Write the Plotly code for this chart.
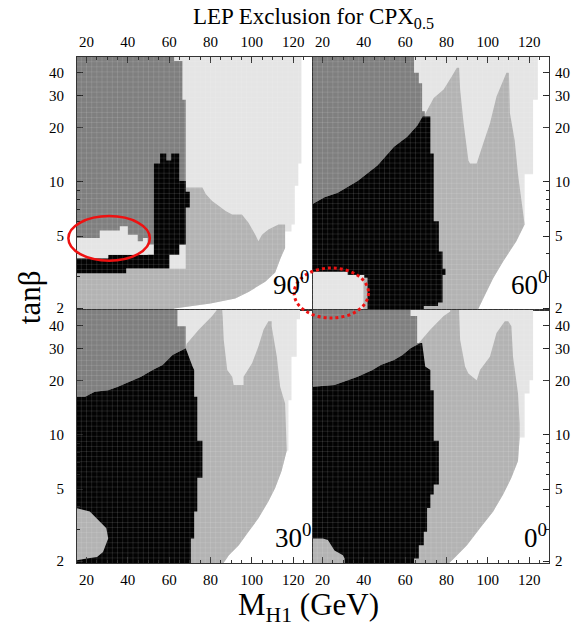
import numpy as np
import plotly.graph_objects as go

LIGHT = "#e5e5e5"
MID = "#b3b3b3"
DARK = "#7f7f7f"
BLACK = "#030303"
FONT = "Liberation Serif"

X_RANGE = [15.4, 129.6]
Y_RANGE_LOG = [0.2911, 1.6893]
X_TICKS = [20, 40, 60, 80, 100, 120]
Y_TICKS = [2, 5, 10, 20, 30, 40]
Y_MINOR = [3, 4, 6, 7, 8, 9]

# ---------------- panel 90 deg (top left) ----------------
TL_LIGHT_X = [15, 124, 124, 122.5, 122.5, 120.8, 120.8, 119.2, 119.2, 116.1, 116.1, 114, 111.3, 106.5, 98.4, 92, 80, 62.4, 62.4, 15]
TL_LIGHT_Y = [50, 50, 12.6, 12.6, 9.5, 9.5, 5.8, 5.8, 5.3, 5.3, 4.3, 3.8, 3.15, 2.8, 2.46, 2.26, 2.12, 1.99, 1.9, 1.9]
TL_MID_X = [15, 68, 68, 76.1, 77.7, 80.8, 84.1, 87.3, 90.5, 95.2, 98.4, 101.7, 103.2, 104.9, 108, 112.9, 116.1, 116.1, 114, 111.3, 106.5, 98.4, 92, 80, 62.4, 62.4, 15]
TL_MID_Y = [3.3, 3.3, 9.3, 9.3, 8.55, 7.83, 7.35, 6.9, 6.6, 6.6, 5.93, 5.1, 4.69, 5.1, 5.45, 5.8, 5.8, 4.3, 3.8, 3.15, 2.8, 2.46, 2.26, 2.12, 1.99, 1.9, 1.9]
TL_DARK_X = [15, 62.4, 62.4, 66.4, 66.4, 68.0, 68.0, 15]
TL_DARK_Y = [50, 50, 46.5, 46.5, 28.4, 28.4, 4.5, 4.5]
TL_BLACK_X = [15, 39.2, 39.2, 60.1, 60.1, 64.9, 64.9, 68.0, 68.0, 70.0, 70.0, 68.0, 68.0, 64.9, 64.9, 61.0, 61.0, 58.6, 58.6, 55.6, 55.6, 52.6, 52.6, 30.5, 30.5, 15]
TL_BLACK_Y = [3.12, 3.12, 3.32, 3.32, 3.95, 3.95, 4.5, 4.5, 7.2, 7.2, 8.8, 8.8, 10.1, 10.1, 14.3, 14.3, 13.1, 13.1, 14.3, 14.3, 12.6, 12.6, 3.95, 3.95, 3.78, 3.78]
TL_PATCH_X = [15, 30.5, 30.5, 49.6, 49.6, 47.3, 47.3, 44.8, 44.8, 40.0, 40.0, 36.1, 36.1, 26.4, 26.4, 15]
TL_PATCH_Y = [3.78, 3.78, 3.95, 3.95, 4.89, 4.89, 4.69, 4.69, 5.1, 5.1, 5.68, 5.68, 5.37, 5.37, 4.89, 4.89]

# ---------------- panel 60 deg (top right) ----------------
TR_LIGHT_X = [15, 124.2, 124.2, 121.9, 121.9, 117.8, 117.8, 113.8, 107.4, 102.6, 97.8, 94.6, 15]
TR_LIGHT_Y = [50, 50, 28.4, 28.4, 11.0, 11.0, 5.8, 4.69, 3.62, 2.93, 2.26, 1.9, 1.9]
TR_MID_X = [68, 69.0, 73.8, 78.6, 82.6, 85.0, 86.1, 86.6, 88.3, 90.6, 91.4, 94.6, 97.8, 101.0, 104.2, 109.0, 110.2, 110.7, 113.0, 114.6, 117.8, 113.8, 107.4, 102.6, 97.8, 94.6, 68]
TR_MID_Y = [22.9, 22.9, 29.0, 32.3, 38.3, 42.7, 42.7, 32.3, 21.0, 13.1, 12.6, 12.6, 16.3, 21.0, 29.6, 40.0, 40.0, 23.9, 16.9, 11.0, 5.8, 4.69, 3.62, 2.93, 2.26, 1.9, 1.9]
TR_DARK_X = [15, 64.3, 64.3, 66.6, 66.6, 68.2, 68.2, 69.5, 69.5, 66.0, 61.0, 54.6, 46.6, 37.0, 27.4, 21.0, 15]
TR_DARK_Y = [50, 50, 40, 40, 35, 35, 24.5, 24.5, 22.9, 20.5, 17.7, 15.6, 12.3, 10.1, 8.7, 8.2, 7.5]
TR_BLACK_X = [15, 21.0, 27.4, 37.0, 46.6, 54.6, 61.0, 66.0, 68.5, 72.2, 72.2, 73.8, 73.8, 76.3, 76.3, 78.1, 78.1, 79.5, 79.5, 78.1, 78.1, 75.9, 75.9, 69.0, 69.0, 15]
TR_BLACK_Y = [7.5, 8.2, 8.7, 10.1, 12.3, 15.6, 17.7, 20.5, 22.9, 22.9, 14.3, 14.3, 6.05, 6.05, 4.12, 4.12, 3.3, 3.3, 3.05, 3.05, 2.15, 2.15, 2.06, 2.06, 1.9, 1.9]
TR_PATCH_X = [15, 15, 32.2, 32.2, 40.2, 40.2]
TR_PATCH_Y = [1.9, 3.18, 3.18, 3.05, 3.05, 1.9]
TR_PATCH2_X = [39.8, 39.8, 41.8, 41.8]
TR_PATCH2_Y = [1.9, 2.95, 2.95, 1.9]

# ---------------- panel 30 deg (bottom left) ----------------
BL_LIGHT_X = [15, 123.3, 123.3, 121.7, 121.7, 119.2, 119.2, 117.7, 117.7, 116.9, 114.4, 111.3, 108.0, 103.2, 98.4, 93.7, 88.9, 85.6, 15]
BL_LIGHT_Y = [50, 50, 43.4, 43.4, 27.0, 27.0, 15.5, 15.5, 8.15, 8.15, 6.3, 5.08, 4.28, 3.45, 2.91, 2.45, 2.16, 1.9, 1.9]
BL_MID_X = [68, 68.5, 74.4, 80.8, 83.7, 85.6, 85.9, 86.4, 88.1, 90.5, 91.2, 96.0, 96.0, 100.1, 103.2, 105.7, 108.0, 109.6, 109.6, 112.1, 113.7, 116.1, 116.9, 114.4, 111.3, 108.0, 103.2, 98.4, 93.7, 88.9, 85.6, 68]
BL_MID_Y = [30.1, 31.8, 38.1, 45.3, 50, 50, 45, 33.5, 22.8, 20.9, 18.8, 18.8, 20.9, 24.8, 30.8, 38.1, 42.4, 42.4, 39.8, 27.0, 18.4, 14.9, 8.15, 6.3, 5.08, 4.28, 3.45, 2.91, 2.45, 2.16, 1.9, 1.9]
BL_DARK_X = [15, 64.0, 64.0, 68.0, 68.0, 61.6, 56.8, 52.0, 46.4, 40.8, 35.2, 30.5, 24.0, 19.3, 15]
BL_DARK_Y = [50, 50, 39.8, 39.8, 30.1, 27.6, 24.3, 22.8, 20.9, 19.6, 18.4, 17.6, 17.3, 16.2, 16.2]
BL_BLACK_X = [15, 19.3, 24.0, 30.5, 35.2, 40.8, 46.4, 52.0, 56.8, 61.6, 68.0, 71.3, 72.1, 72.1, 73.6, 73.6, 76.1, 76.1, 73.6, 73.6, 72.1, 72.1, 70.5, 70.5, 15]
BL_BLACK_Y = [16.2, 16.2, 17.3, 17.6, 18.4, 19.6, 20.9, 22.8, 24.3, 27.6, 30.1, 23.8, 22.8, 16.2, 16.2, 9.27, 9.27, 5.78, 5.78, 3.77, 3.77, 2.67, 2.67, 1.9, 1.9]
BL_PATCH_X = [15, 21.6, 26.4, 29.6, 30.5, 28.0, 25.1, 20.1, 15]
BL_PATCH_Y = [3.93, 3.77, 3.31, 3.04, 2.67, 2.25, 2.11, 2.07, 2.02]

# ---------------- panel 0 deg (bottom right) ----------------
BR_LIGHT_X = [15, 121.9, 121.9, 120.2, 120.2, 117.8, 117.8, 115.4, 114.6, 111.4, 107.4, 102.6, 96.2, 89.9, 83.6, 80.2, 15]
BR_LIGHT_Y = [50, 50, 20.0, 20.0, 16.9, 16.9, 9.66, 9.66, 7.16, 5.78, 4.67, 3.77, 3.04, 2.45, 2.07, 1.9, 1.9]
BR_MID_X = [15, 64, 64, 66.6, 72.2, 78.6, 81.8, 81.8, 86.1, 86.1, 86.6, 89.0, 90.6, 94.6, 96.2, 101.0, 104.2, 108.2, 109.9, 111.4, 112.2, 114.6, 115.4, 115.4, 114.6, 111.4, 107.4, 102.6, 96.2, 89.9, 83.6, 80.2, 15]
BR_MID_Y = [3.0, 3.0, 32.1, 32.1, 38.1, 45.3, 48, 50, 50, 48, 33.5, 23.8, 21.8, 20.0, 22.8, 27.0, 36.5, 42.4, 42.4, 39.8, 27.0, 16.9, 11.5, 9.66, 7.16, 5.78, 4.67, 3.77, 3.04, 2.45, 2.07, 1.9, 1.9]
BR_DARK_X = [15, 62.6, 62.6, 65.8, 65.8, 67.4, 62.6, 58.7, 54.6, 48.2, 44.2, 37.0, 25.8, 15]
BR_DARK_Y = [50, 50, 45.3, 45.3, 32.1, 32.1, 30.1, 27.6, 25.9, 24.3, 22.8, 20.9, 18.8, 18.4]
BR_BLACK_X = [15, 25.8, 37.0, 44.2, 48.2, 54.6, 58.7, 62.6, 67.4, 68.2, 69.7, 72.2, 72.2, 73.8, 73.8, 76.3, 76.3, 73.8, 73.8, 72.2, 72.2, 70.6, 70.6, 69.0, 69.0, 66.6, 66.6, 64.3, 64.3, 30.7, 30.7, 29.9, 25.8, 22.6, 20.2, 15]
BR_BLACK_Y = [18.4, 18.8, 20.9, 22.8, 24.3, 25.9, 27.6, 30.1, 32.1, 32.1, 23.8, 22.8, 17.6, 17.6, 9.27, 9.27, 5.31, 5.31, 4.67, 4.67, 3.93, 3.93, 2.91, 2.91, 2.45, 2.45, 2.07, 2.07, 1.9, 1.9, 2.07, 2.16, 2.29, 2.62, 2.67, 2.67]

PANELS = [
    ("x", "y", [(TL_LIGHT_X, TL_LIGHT_Y, LIGHT), (TL_MID_X, TL_MID_Y, MID), (TL_DARK_X, TL_DARK_Y, DARK),
                (TL_BLACK_X, TL_BLACK_Y, BLACK), (TL_PATCH_X, TL_PATCH_Y, LIGHT)]),
    ("x2", "y2", [(TR_LIGHT_X, TR_LIGHT_Y, LIGHT), (TR_MID_X, TR_MID_Y, MID), (TR_DARK_X, TR_DARK_Y, DARK),
                  (TR_BLACK_X, TR_BLACK_Y, BLACK), (TR_PATCH_X, TR_PATCH_Y, LIGHT), (TR_PATCH2_X, TR_PATCH2_Y, MID)]),
    ("x3", "y3", [(BL_LIGHT_X, BL_LIGHT_Y, LIGHT), (BL_MID_X, BL_MID_Y, MID), (BL_DARK_X, BL_DARK_Y, DARK),
                  (BL_BLACK_X, BL_BLACK_Y, BLACK), (BL_PATCH_X, BL_PATCH_Y, MID)]),
    ("x4", "y4", [(BR_LIGHT_X, BR_LIGHT_Y, LIGHT), (BR_MID_X, BR_MID_Y, MID), (BR_DARK_X, BR_DARK_Y, DARK),
                  (BR_BLACK_X, BR_BLACK_Y, BLACK)]),
]
PANEL_LABELS = ["90<sup>0</sup>", "60<sup>0</sup>", "30<sup>0</sup>", "0<sup>0</sup>"]
# paper-space domains of the four panels (x0, x1, y0, y1)
DOMAINS = [(0, 0.5, 0.5, 1), (0.5, 1, 0.5, 1), (0, 0.5, 0, 0.5), (0.5, 1, 0, 0.5)]

fig = go.Figure()
for xa, ya, layers in PANELS:
    for xs, ys, col in layers:
        fig.add_trace(go.Scatter(x=xs, y=ys, fill="toself", fillcolor=col, mode="none",
                                 xaxis=xa, yaxis=ya, hoverinfo="skip", showlegend=False))

# faint scan-cell mesh drawn over the regions (decoration only)
GRID_STEP_X = 2.5      # GeV
GRID_STEP_LOG = 0.028  # decades of tan(beta)
for (dx0, dx1, dy0, dy1) in DOMAINS:
    parts = []
    for g in np.arange(17.5, X_RANGE[1], GRID_STEP_X):
        xp = dx0 + (g - X_RANGE[0]) / (X_RANGE[1] - X_RANGE[0]) * (dx1 - dx0)
        parts.append(f"M{xp:.5f},{dy0:.5f}L{xp:.5f},{dy1:.5f}")
    for lg in np.arange(Y_RANGE_LOG[0] + GRID_STEP_LOG, Y_RANGE_LOG[1], GRID_STEP_LOG):
        yp = dy0 + (lg - Y_RANGE_LOG[0]) / (Y_RANGE_LOG[1] - Y_RANGE_LOG[0]) * (dy1 - dy0)
        parts.append(f"M{dx0:.5f},{yp:.5f}L{dx1:.5f},{yp:.5f}")
    fig.add_shape(type="path", xref="paper", yref="paper", path="".join(parts), layer="above",
                  line=dict(color="rgba(255,255,255,0.11)", width=1))

tickfont = dict(family=FONT, size=15, color="black")
def xax(domain, anchor, side):
    return dict(domain=domain, anchor=anchor, side=side, range=X_RANGE, tickvals=X_TICKS,
                ticks="inside", ticklen=6, tickcolor="#222", showline=True, linecolor="#333",
                linewidth=1, mirror=True, showgrid=False, zeroline=False, tickfont=tickfont,
                minor=dict(ticks="inside", ticklen=3, dtick=5, tick0=0, tickcolor="#222"),
                layer="above traces", ticklabelstandoff=3)
def yax(domain, anchor, side, standoff):
    return dict(domain=domain, anchor=anchor, side=side, type="log", range=Y_RANGE_LOG,
                tickvals=Y_TICKS, ticks="inside", ticklen=6, tickcolor="#222", showline=True,
                linecolor="#333", linewidth=1, mirror=True, showgrid=False, zeroline=False,
                tickfont=tickfont, minor=dict(ticks="inside", ticklen=3, tickvals=Y_MINOR, tickcolor="#222"),
                layer="above traces", ticklabelstandoff=standoff)

fig.update_layout(
    width=582, height=627, margin=dict(l=77, r=29, t=57, b=64),
    paper_bgcolor="white", plot_bgcolor="white", showlegend=False,
    xaxis=xax([0, 0.5], "y", "top"), yaxis=yax([0.5, 1], "x", "left", 9),
    xaxis2=xax([0.5, 1], "y2", "top"), yaxis2=yax([0.5, 1], "x2", "right", 2),
    xaxis3=xax([0, 0.5], "y3", "bottom"), yaxis3=yax([0, 0.5], "x3", "left", 9),
    xaxis4=xax([0.5, 1], "y4", "bottom"), yaxis4=yax([0, 0.5], "x4", "right", 2),
)

label_pos = [("x", "y", 0.993), ("x2", "y2", 1.0), ("x3", "y3", 1.0), ("x4", "y4", 1.0)]
for (xa, ya, xr), txt in zip(label_pos, PANEL_LABELS):
    fig.add_annotation(text=txt, xref=f"{xa} domain", yref=f"{ya} domain", x=xr, y=0.03,
                       xanchor="right", yanchor="bottom", showarrow=False,
                       font=dict(family=FONT, size=27, color="black"))

fig.add_annotation(text="LEP Exclusion for CPX<sub>0.5</sub>", xref="paper", yref="paper",
                   x=0.502, y=1.045, xanchor="center", yanchor="bottom", showarrow=False,
                   font=dict(family=FONT, size=23, color="black"))
fig.add_annotation(text="tanβ", xref="paper", yref="paper", x=-0.1, y=0.525, textangle=-90,
                   xanchor="center", yanchor="middle", showarrow=False,
                   font=dict(family=FONT, size=31, color="black"))
fig.add_annotation(text="M<sub>H1</sub> (GeV)", xref="paper", yref="paper", x=0.49, y=-0.087,
                   xanchor="center", yanchor="middle", showarrow=False,
                   font=dict(family=FONT, size=31, color="black"))

fig.add_shape(type="circle", xref="paper", yref="paper", x0=-0.0183, x1=0.1544, y0=0.5974, y1=0.6858,
              line=dict(color="#ee1111", width=2.5))
fig.add_shape(type="circle", xref="paper", yref="paper", x0=0.460, x1=0.6176, y0=0.4842, y1=0.583,
              line=dict(color="#ee1111", width=3, dash="dot"))

fig.write_html("out.html")
